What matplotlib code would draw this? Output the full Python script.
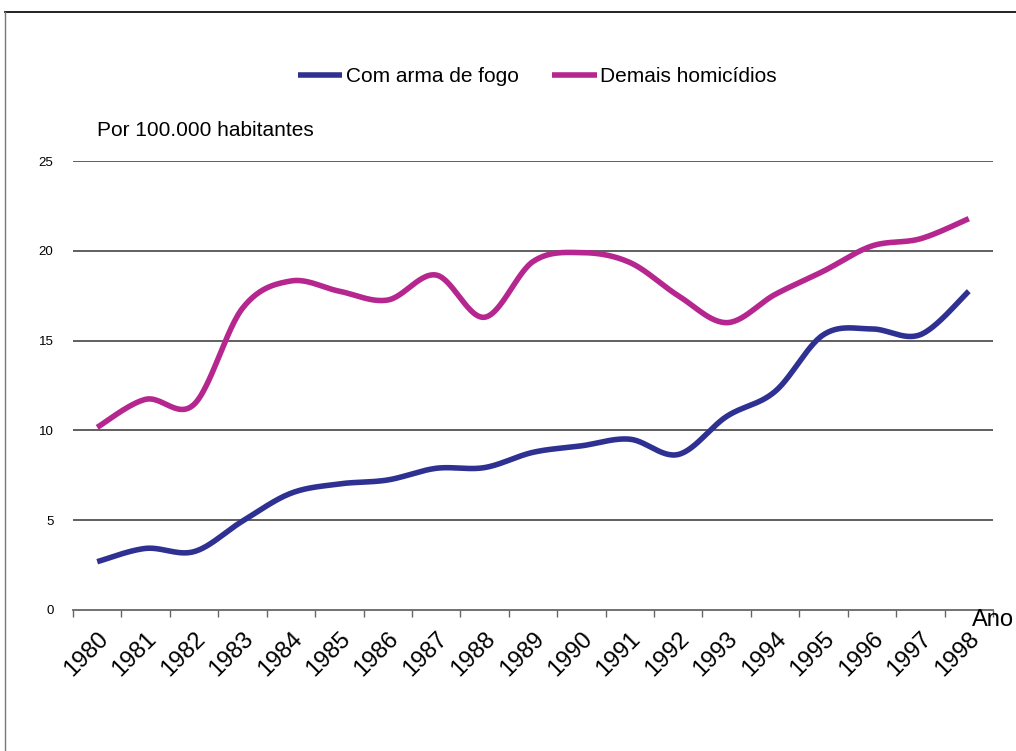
import matplotlib
matplotlib.use("Agg")
import matplotlib.pyplot as plt
from matplotlib.lines import Line2D
import numpy as np

plt.rcParams['font.family'] = ['Liberation Sans', 'DejaVu Sans']

# Data (rate per 100.000 inhabitants)
anos = [str(a) for a in range(1980, 1999)]
arma_fogo = [2.69, 3.43, 3.25, 4.95, 6.5, 7.02, 7.24, 7.89, 7.93, 8.78,
             9.14, 9.51, 8.66, 10.78, 12.17, 15.33, 15.65, 15.33, 17.75]
demais = [10.17, 11.73, 11.45, 16.8, 18.32, 17.75, 17.26, 18.65, 16.3, 19.4,
          19.9, 19.35, 17.5, 16.0, 17.57, 18.87, 20.27, 20.67, 21.79]
yticks = [0, 5, 10, 15, 20, 25]

blue = '#2E3192'
magenta = '#B5278F'


def smooth(y, n=30):
    # Excel-style smoothed line: Bezier through the points (Catmull-Rom tangents)
    y = np.asarray(y, dtype=float)
    x = np.arange(len(y), dtype=float)
    px = np.concatenate([[x[0]], x, [x[-1]]])
    py = np.concatenate([[y[0]], y, [y[-1]]])
    xs, ys = [], []
    t = np.linspace(0, 1, n)[:, None]
    for i in range(1, len(px) - 2):
        p0 = np.array([px[i], py[i]])
        p3 = np.array([px[i + 1], py[i + 1]])
        p1 = p0 + (np.array([px[i + 1], py[i + 1]]) - np.array([px[i - 1], py[i - 1]])) / 6
        p2 = p3 - (np.array([px[i + 2], py[i + 2]]) - np.array([px[i], py[i]])) / 6
        b = ((1 - t) ** 3) * p0 + 3 * ((1 - t) ** 2) * t * p1 + 3 * (1 - t) * t ** 2 * p2 + t ** 3 * p3
        xs.append(b[:, 0])
        ys.append(b[:, 1])
    return np.concatenate(xs), np.concatenate(ys)


fig = plt.figure(figsize=(10.16, 7.51), dpi=100)
ax = fig.add_axes([73 / 1016, 141 / 751, 920 / 1016, 449 / 751])

x1, y1 = smooth(arma_fogo)
x2, y2 = smooth(demais)
ax.plot(x1, y1, color=blue, lw=4, solid_capstyle='butt', label='Com arma de fogo', zorder=3)
ax.plot(x2, y2, color=magenta, lw=4, solid_capstyle='butt', label='Demais homicídios', zorder=3)

ax.set_xlim(-0.5, len(anos) - 0.5)
ax.set_ylim(0, 25)

for v in yticks[1:]:
    ax.axhline(v, color='#444444', lw=1.2, zorder=1)

for s in ['top', 'right', 'left']:
    ax.spines[s].set_visible(False)
ax.spines['bottom'].set_color('#666666')
ax.spines['bottom'].set_linewidth(1.3)

ax.set_yticks(yticks)
ax.set_yticklabels([str(v) for v in yticks], fontsize=9.5)
ax.tick_params(axis='y', length=0, pad=14)

# category ticks between years, labels at year centres
ax.set_xticks(np.arange(-0.5, len(anos)), minor=True)
ax.set_xticks(np.arange(len(anos)))
ax.set_xticklabels(anos, rotation=45, ha='right', va='top', rotation_mode='anchor', fontsize=17)
ax.tick_params(axis='x', which='major', length=0, pad=13)
ax.tick_params(axis='x', which='minor', length=5, color='#666666', width=1)

fig.text(1014 / 1016, 1 - 620 / 751, 'Ano', fontsize=17, ha='right', va='center')
fig.text(97 / 1016, 1 - 130 / 751, 'Por 100.000 habitantes', fontsize=15, ha='left', va='center')

fig.legend(loc='center', bbox_to_anchor=(537 / 1016, 1 - 77 / 751), ncol=2, frameon=False,
           fontsize=15, handlelength=2.15, handletextpad=0.15, columnspacing=1.6)

# outer frame (partly outside the picture)
fig.add_artist(Line2D([5 / 1016, 1.0], [1 - 12 / 751] * 2, color='#111111', lw=1.3, transform=fig.transFigure))
fig.add_artist(Line2D([5 / 1016] * 2, [0.0, 1 - 12 / 751], color='#777777', lw=1.0, transform=fig.transFigure))

fig.savefig('out.png', dpi=100)
